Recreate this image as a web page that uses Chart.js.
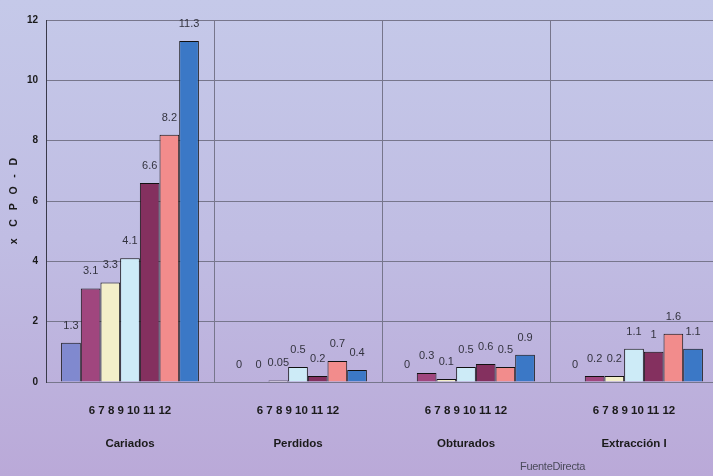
<!DOCTYPE html>
<html>
<head>
<meta charset="utf-8">
<script src="https://cdn.jsdelivr.net/npm/chart.js@4/dist/chart.umd.min.js"></script>
<style>
    html, body { margin: 0; padding: 0; overflow: hidden; }
    body {
        width: 713px;
        height: 476px;
        background: linear-gradient(180deg, #c5c9e9 0%, #c0bde3 50%, #baa9d8 100%);
        position: relative;
        font-family: 'Liberation Sans', Arial, sans-serif;
    }
    #wrap { position: absolute; left: 0; top: 0; width: 725px; height: 476px; }
    #fuente {
        position: absolute; left: 520px; top: 460px;
        font-size: 11px; color: #4a4a5a; letter-spacing: -0.3px;
    }
</style>
</head>
<body>
<div id="wrap"><canvas id="cpod" width="725" height="476"></canvas></div>
<div id="fuente">FuenteDirecta</div>
<script>
    // Índice CPO-D por componente y edad
    const groupNames = ['Cariados', 'Perdidos', 'Obturados', 'Extracción I'];
    const ageLabels = ['6', '7', '8', '9', '10', '11', '12'];
    const age6 = [1.3, 0, 0, 0];
    const age7 = [3.1, 0, 0.3, 0.2];
    const age8 = [3.3, 0.05, 0.1, 0.2];
    const age9 = [4.1, 0.5, 0.5, 1.1];
    const age10 = [6.6, 0.2, 0.6, 1];
    const age11 = [8.2, 0.7, 0.5, 1.6];
    const age12 = [11.3, 0.4, 0.9, 1.1];
    const yTicks = [0, 2, 4, 6, 8, 10, 12];

    const series = [age6, age7, age8, age9, age10, age11, age12];
    const colors = ['#8089cf', '#a0467e', '#f3efc9', '#cdebf7', '#84305f', '#f28c8c', '#3b78c6'];

    const labels = groupNames.map(function (name) {
        return [ageLabels.join(' '), '', name];
    });

    const datasets = series.map(function (vals, i) {
        return {
            label: ageLabels[i],
            data: vals,
            backgroundColor: colors[i],
            borderColor: '#111',
            borderWidth: 1,
            borderSkipped: 'bottom',
            categoryPercentage: 0.82,
            barPercentage: 1.0,
        };
    });

    const valueLabels = {
        id: 'valueLabels',
        afterDatasetsDraw: function (chart) {
            const ctx = chart.ctx;
            ctx.save();
            ctx.font = '11px "Liberation Sans", Arial, sans-serif';
            ctx.fillStyle = '#33333f';
            ctx.textAlign = 'center';
            ctx.textBaseline = 'alphabetic';
            chart.data.datasets.forEach(function (ds, i) {
                chart.getDatasetMeta(i).data.forEach(function (bar, j) {
                    ctx.fillText(String(ds.data[j]), bar.x, bar.y - 14);
                });
            });
            ctx.restore();
        },
    };

    new Chart(document.getElementById('cpod'), {
        type: 'bar',
        data: { labels: labels, datasets: datasets },
        plugins: [valueLabels],
        options: {
            responsive: false,
            animation: false,
            layout: { padding: { top: 20, right: 7, bottom: 0, left: 0 } },
            plugins: {
                legend: { display: false },
                tooltip: { enabled: false },
            },
            scales: {
                x: {
                    grid: { color: '#77768c', lineWidth: 1, drawTicks: false, offset: true },
                    border: { color: '#77768c' },
                    ticks: {
                        padding: 20,
                        color: '#1a1a1a',
                        maxRotation: 0,
                        font: { family: '"Liberation Sans", Arial, sans-serif', size: 11.5, weight: 'bold', lineHeight: 1.45 },
                    },
                    afterFit: function (scale) { scale.height = 94; },
                },
                y: {
                    min: 0,
                    max: 12,
                    afterBuildTicks: function (scale) {
                        scale.ticks = yTicks.map(function (v) { return { value: v }; });
                    },
                    grid: { color: '#77768c', lineWidth: 1, drawTicks: false },
                    border: { color: '#3a3a4a', width: 1 },
                    ticks: {
                        padding: 8,
                        color: '#1a1a1a',
                        font: { family: '"Liberation Sans", Arial, sans-serif', size: 10, weight: 'bold' },
                    },
                    title: {
                        display: true,
                        text: 'x    C   P   O   -   D',
                        color: '#1a1a1a',
                        padding: { top: 8, bottom: 2 },
                        font: { family: '"Liberation Sans", Arial, sans-serif', size: 10.5, weight: 'bold' },
                    },
                    afterFit: function (scale) { scale.width = 46; },
                },
            },
        },
    });
</script>
</body>
</html>
